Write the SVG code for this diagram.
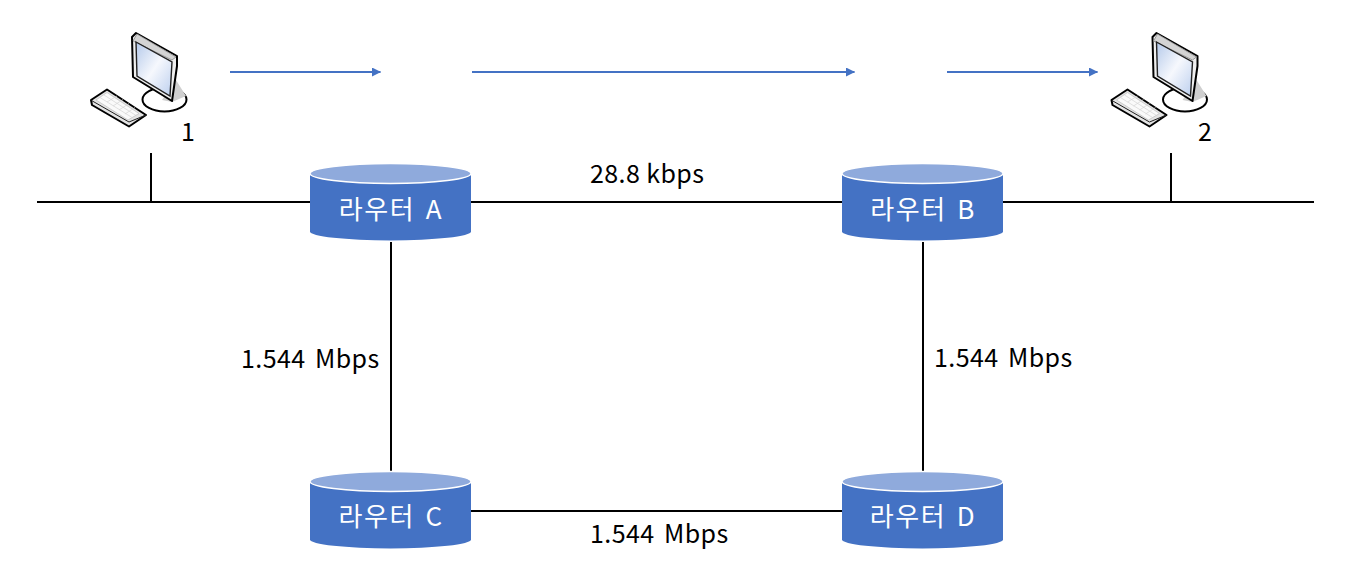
<svg xmlns="http://www.w3.org/2000/svg" xmlns:xlink="http://www.w3.org/1999/xlink" width="1345" height="585" viewBox="0 0 1345 585">
<style>
text{font-family:"Noto Sans CJK KR","Noto Sans",sans-serif;font-size:25px;fill:#000;word-spacing:3.500px;letter-spacing:.4px}
.r{fill:#fff;text-anchor:middle;font-size:26px;letter-spacing:1.600px;word-spacing:3px}
.k{word-spacing:0}
.l{stroke:#000;stroke-width:2;fill:none}
.a{stroke:#4472c4;stroke-width:2;fill:none;marker-end:url(#ah)}
.ic{stroke:#000;stroke-width:2;stroke-linejoin:round}
.top{fill:#8faadc;stroke:#fff;stroke-width:1.500}
.body{fill:#4472c4}
</style>
<defs>
<marker id="ah" markerUnits="userSpaceOnUse" markerWidth="9" markerHeight="9" refX="8.500" refY="4.500" orient="auto"><path d="M0 0L9 4.500L0 9z" fill="#4472c4"/></marker>
<linearGradient id="sc" x1="0" y1="0" x2="1" y2="1"><stop offset="0" stop-color="#b4c9ea"/><stop offset=".5" stop-color="#f6f8fd"/><stop offset="1" stop-color="#bccfee"/></linearGradient>
<g id="pc">
<ellipse cx="164.500" cy="99.500" rx="22" ry="12" fill="#fff" class="ic"/>
<path d="M176 80L186 96L172 102L162 100z" fill="#cfcfcf"/>
<path d="M132 37L136 33L177 56L177 66L172 101L133 77z" fill="#efefef" class="ic"/>
<path d="M133 41L137 34L176 57L172 60z" fill="#d4d4d4" stroke="#888" stroke-width=".8"/>
<path d="M136 42L172 62L170 96L137 76z" fill="url(#sc)" stroke="#222" stroke-width="1.400"/>
<path d="M91 100L107 89.500L146 115L129 126.500L92 105z" fill="#e4e4e4" class="ic"/>
<path d="M91.500 100.500L129 122L146 115" fill="none" stroke="#222" stroke-width="1"/>
<path d="M96 100L107 92.500L139 113.500L128 120z" fill="#fafafa" stroke="#c4c4c4" stroke-width=".8"/>
<path d="M100 97.500L132 117.500M104 95L136 115.500M107 102L117 96M113 106L123 99.500M119 110L129 103.500M125 114L135 107.500" fill="none" stroke="#d4d4d4" stroke-width=".7"/>
</g>
</defs>
<rect width="1345" height="585" fill="#fff"/>
<g id="connectors">
<path class="l" d="M37 202H310M151 153V202M471 202H842M1003 202H1314M1171 153V202M391 242V471M923 242V471M471 511H842"/>
<path class="a" d="M230 72H380.500"/>
<path class="a" d="M472 72H854.500"/>
<path class="a" d="M947 72H1097.500"/>
</g>
<g id="pc1"><use xlink:href="#pc" href="#pc"/><text x="181" y="141">1</text></g>
<g id="pc2"><use xlink:href="#pc" href="#pc" transform="translate(1020.500 0)"/><text x="1198" y="141">2</text></g>
<g id="routerA">
<path class="body" d="M310 173.500V231.500A80.500 9 0 0 0 471 231.500V173.500z"/>
<ellipse class="top" cx="390.500" cy="173.500" rx="80.500" ry="10"/>
<text class="r" x="391" y="219">라우터 A</text>
</g>
<g id="routerB">
<path class="body" d="M842 173.500V231.500A80.500 9 0 0 0 1003 231.500V173.500z"/>
<ellipse class="top" cx="922.500" cy="173.500" rx="80.500" ry="10"/>
<text class="r" x="923" y="219">라우터 B</text>
</g>
<g id="routerC">
<path class="body" d="M310 481.500V539.500A80.500 9 0 0 0 471 539.500V481.500z"/>
<ellipse class="top" cx="390.500" cy="481.500" rx="80.500" ry="10"/>
<text class="r" x="391" y="526">라우터 C</text>
</g>
<g id="routerD">
<path class="body" d="M842 481.500V539.500A80.500 9 0 0 0 1003 539.500V481.500z"/>
<ellipse class="top" cx="922.500" cy="481.500" rx="80.500" ry="10"/>
<text class="r" x="923" y="526">라우터 D</text>
</g>
<g id="labels">
<text class="k" x="590" y="183">28.8 kbps</text>
<text x="241" y="368">1.544 Mbps</text>
<text x="934" y="367">1.544 Mbps</text>
<text x="590" y="543">1.544 Mbps</text>
</g>
</svg>
